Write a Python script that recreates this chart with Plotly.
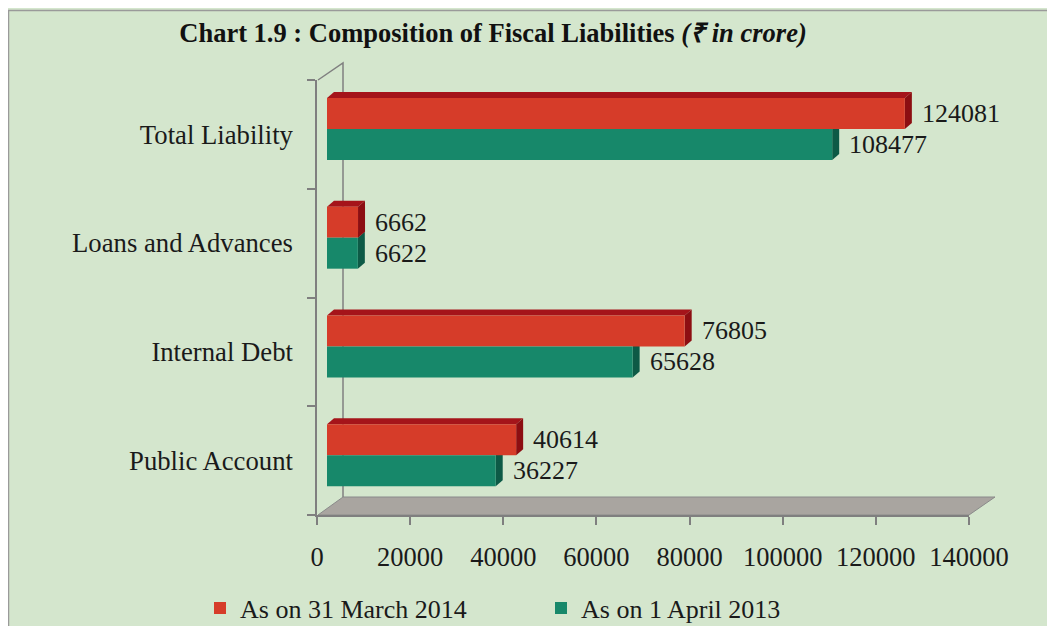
import plotly.graph_objects as go

# ---- data ----
categories = ["Public Account", "Internal Debt", "Loans and Advances", "Total Liability"]
mar_2014 = [40614, 76805, 6662, 124081]
apr_2013 = [36227, 65628, 6622, 108477]
series_names = ["As on 31 March 2014", "As on 1 April 2013"]
x_ticks = [0, 20000, 40000, 60000, 80000, 100000, 120000, 140000]
x_max = 140000

# ---- style / layout constants ----
FONT = "Liberation Serif, Times New Roman, serif"
RED, RED_TOP, RED_SIDE = "#d63c29", "#a5141a", "#8c0e12"
TEAL, TEAL_SIDE = "#17886a", "#0d5a46"
BG = "#d4e6cd"
W, H = 1055, 626
OFF = 8                      # page body margin (screen px -> figure px)
L, T = 317 - OFF, 80 - OFF
PW, PH = 662, 435
R, B = W - L - PW, H - T - PH
FRONT_SHIFT = 10            # px offset of bar fronts from back axis
DEPTH_X, DEPTH_Y = 7, 6     # 3D depth in px
BAR_W = 0.285
RED_OFF, TEAL_OFF = 0.05, 0.05 - 0.285

scale_x = x_max / (PW - FRONT_SHIFT)  # data units per px (bar axis)
band_px = PH / len(categories)
dx = DEPTH_X * scale_x
dy = DEPTH_Y / band_px

def px2paper(px, py):
    """screen pixel -> paper fraction"""
    return (px - OFF - L) / PW, (T + PH - (py - OFF)) / PH

fig = go.Figure()

fig.add_trace(go.Bar(
    name=series_names[0], y=categories, x=mar_2014, orientation="h",
    offset=RED_OFF, width=BAR_W, marker=dict(color=RED, line=dict(width=0)),
    xaxis="x", yaxis="y", hoverinfo="x+name"))
fig.add_trace(go.Bar(
    name=series_names[1], y=categories, x=apr_2013, orientation="h",
    offset=TEAL_OFF, width=BAR_W, marker=dict(color=TEAL, line=dict(width=0)),
    xaxis="x", yaxis="y", hoverinfo="x+name"))
fig.add_trace(go.Scatter(x=[], y=[], xaxis="x2", yaxis="y", showlegend=False,
                         hoverinfo="skip"))

shapes = []
# frame border
x0, y0 = px2paper(8.5, 10.5)
x1, y1 = px2paper(W + 30, H + 30)
shapes.append(dict(type="rect", xref="paper", yref="paper", x0=x0, y0=y1, x1=x1, y1=y0,
                   fillcolor=BG, line=dict(color="#9a9a9a", width=1.5), layer="below"))
# floor
fp = [px2paper(318, 515), px2paper(343, 497), px2paper(995, 497), px2paper(969, 515)]
path = "M " + " L ".join(f"{a},{b}" for a, b in fp) + " Z"
shapes.append(dict(type="path", xref="paper", yref="paper", path=path,
                   fillcolor="#a9a5a0", line=dict(color="#8a8a8a", width=1), layer="below"))
# back wall edge
wp = [px2paper(318, 80), px2paper(343, 63), px2paper(343, 497)]
path = "M " + " L ".join(f"{a},{b}" for a, b in wp)
shapes.append(dict(type="path", xref="paper", yref="paper", path=path,
                   line=dict(color="#808080", width=1.5), layer="below"))

def poly(pts):
    return "M " + " L ".join(f"{a},{b}" for a, b in pts) + " Z"

annotations = []
for i, (vr, vt) in enumerate(zip(mar_2014, apr_2013)):
    # teal side face
    yb, yt = i + TEAL_OFF, i + TEAL_OFF + BAR_W
    shapes.append(dict(type="path", xref="x", yref="y", layer="below",
                       path=poly([(vt, yb), (vt, yt), (vt + dx, yt + dy), (vt + dx, yb + dy)]),
                       fillcolor=TEAL_SIDE, line=dict(width=0)))
    annotations.append(dict(x=vt, y=(yb + yt) / 2, xref="x", yref="y", text=str(vt),
                            showarrow=False, xanchor="left", yanchor="middle", xshift=15,
                            font=dict(family=FONT, size=26, color="#1a1a1a")))
    # red top and side faces
    yb, yt = i + RED_OFF, i + RED_OFF + BAR_W
    shapes.append(dict(type="path", xref="x", yref="y", layer="below",
                       path=poly([(0, yt), (vr, yt), (vr + dx, yt + dy), (dx, yt + dy)]),
                       fillcolor=RED_TOP, line=dict(width=0)))
    shapes.append(dict(type="path", xref="x", yref="y", layer="below",
                       path=poly([(vr, yb), (vr, yt), (vr + dx, yt + dy), (vr + dx, yb + dy)]),
                       fillcolor=RED_SIDE, line=dict(width=0)))
    annotations.append(dict(x=vr, y=(yb + yt) / 2, xref="x", yref="y", text=str(vr),
                            showarrow=False, xanchor="left", yanchor="middle", xshift=15,
                            font=dict(family=FONT, size=26, color="#1a1a1a")))

lx, ly = px2paper(200, 608)

fig.update_layout(
    width=W, height=H,
    margin=dict(l=L, r=R, t=T, b=B, pad=0, autoexpand=False),
    paper_bgcolor=BG, plot_bgcolor="rgba(0,0,0,0)",
    barmode="overlay",
    font=dict(family=FONT, size=26, color="#1a1a1a"),
    title=dict(text="<b>Chart 1.9 : Composition of Fiscal Liabilities <i>(₹ in crore)</i></b>",
               x=(493 - OFF) / W, xanchor="center", xref="container",
               y=1 - (33 - OFF) / H, yanchor="middle", yref="container",
               font=dict(family=FONT, size=26.5, color="#111111")),
    xaxis=dict(domain=[FRONT_SHIFT / PW, 1], range=[0, x_max], visible=False,
               anchor="y", fixedrange=True),
    xaxis2=dict(domain=[0, (PW - FRONT_SHIFT) / PW], range=[0, x_max], anchor="y",
                tickvals=x_ticks, ticktext=[str(v) for v in x_ticks],
                ticks="outside", ticklen=8, tickcolor="#7f7f7f", tickwidth=1.5,
                showline=True, linecolor="#7f7f7f", linewidth=1.5,
                showgrid=False, zeroline=False, ticklabelstandoff=9,
                tickfont=dict(family=FONT, size=26.5, color="#1a1a1a")),
    yaxis=dict(type="category", categoryorder="array", categoryarray=categories,
               range=[-0.5, len(categories) - 0.5], anchor="x2",
               tickson="boundaries", ticks="outside", ticklen=8, tickcolor="#7f7f7f",
               tickwidth=1.5, showline=True, linecolor="#7f7f7f", linewidth=1.5,
               showgrid=False, zeroline=False, ticklabelstandoff=17,
               tickfont=dict(family=FONT, size=26.7, color="#1a1a1a")),
    legend=dict(orientation="h", x=lx, xanchor="left", y=ly, yanchor="middle",
                bgcolor="rgba(0,0,0,0)", entrywidth=296, entrywidthmode="pixels",
                font=dict(family=FONT, size=26, color="#1a1a1a"), traceorder="normal"),
    shapes=shapes, annotations=annotations,
    showlegend=True,
)

fig.write_html("out.html")
